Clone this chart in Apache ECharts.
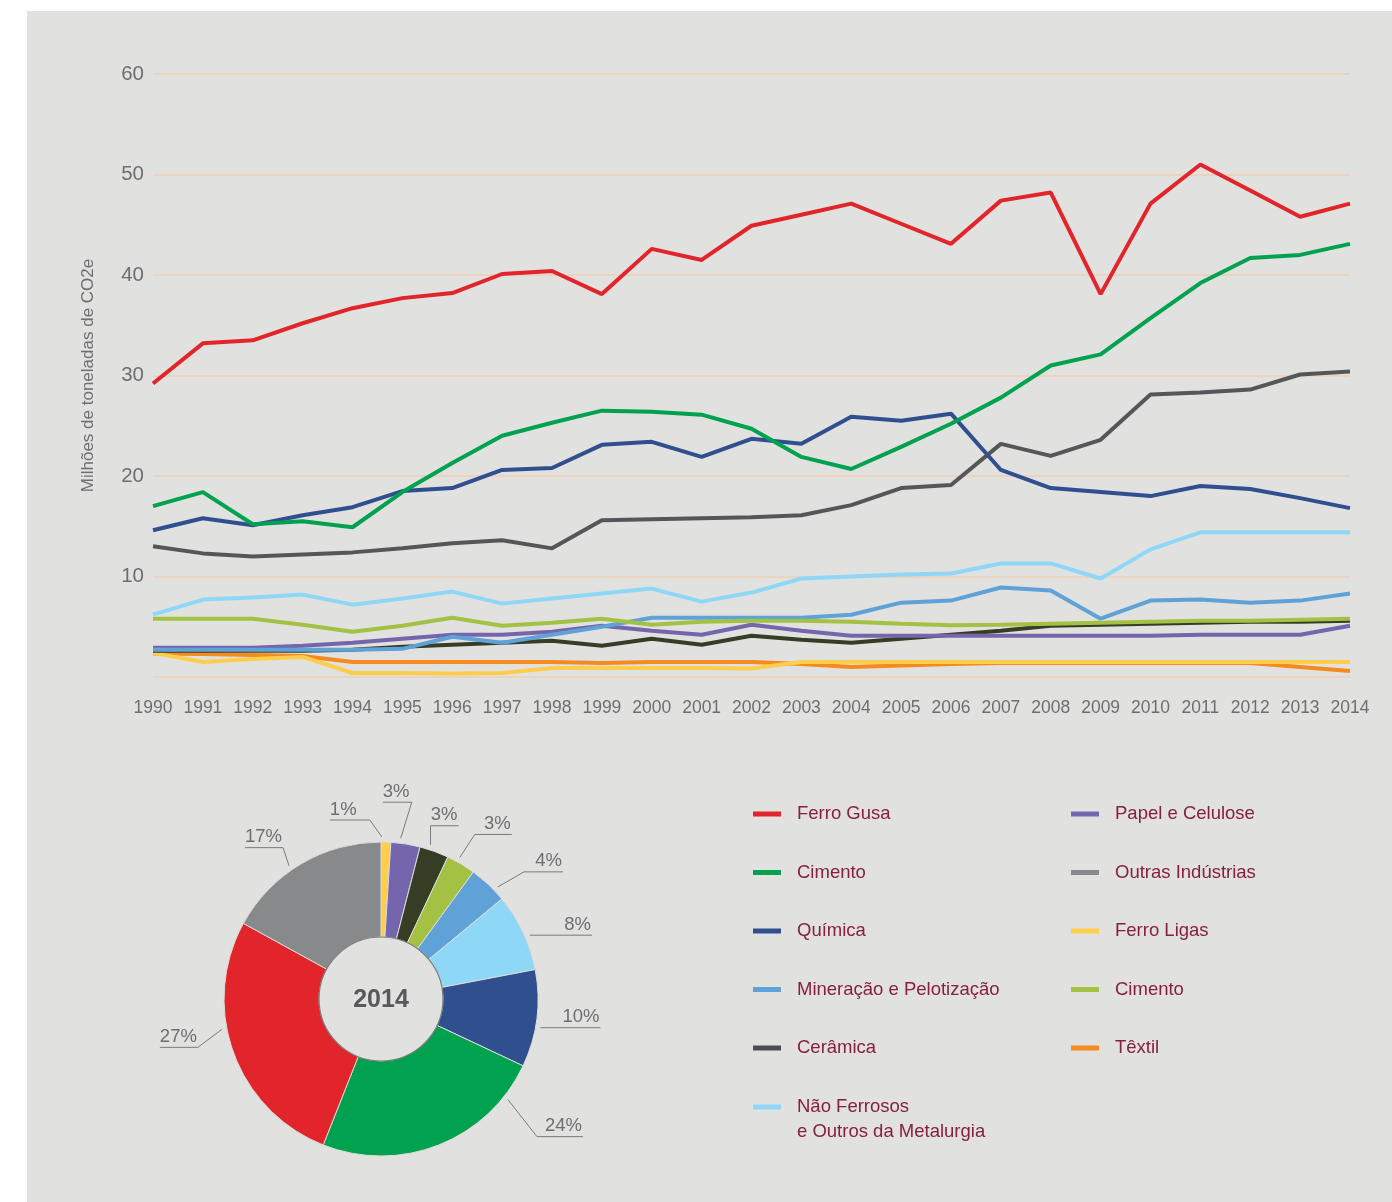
<!DOCTYPE html>
<html>
<head>
<meta charset="utf-8">
<script src="https://cdn.jsdelivr.net/npm/echarts@6/dist/echarts.min.js"></script>
<style>
  html, body { margin: 0; padding: 0; background: #ffffff; }
  #chart { position: absolute; left: 27px; top: 11px; width: 1365px; height: 1191px; background: #e1e1df; }
</style>
</head>
<body>
<div id="chart"></div>
<script>
// ---------- data ----------
const years = ['1990','1991','1992','1993','1994','1995','1996','1997','1998','1999','2000','2001','2002',
  '2003','2004','2005','2006','2007','2008','2009','2010','2011','2012','2013','2014'];

const ferroGusa   = [29.2, 33.2, 33.5, 35.2, 36.7, 37.7, 38.2, 40.1, 40.4, 38.1, 42.6, 41.5, 44.9, 46.0, 47.1, 45.1, 43.1, 47.4, 48.2, 38.1, 47.1, 51.0, 48.4, 45.8, 47.1];
const cimento     = [17.0, 18.4, 15.2, 15.5, 14.9, 18.4, 21.3, 24.0, 25.3, 26.5, 26.4, 26.1, 24.7, 21.9, 20.7, 22.9, 25.2, 27.8, 31.0, 32.1, 35.7, 39.2, 41.7, 42.0, 43.1];
const quimica     = [14.6, 15.8, 15.1, 16.1, 16.9, 18.5, 18.8, 20.6, 20.8, 23.1, 23.4, 21.9, 23.7, 23.2, 25.9, 25.5, 26.2, 20.6, 18.8, 18.4, 18.0, 19.0, 18.7, 17.8, 16.8];
const outras      = [13.0, 12.3, 12.0, 12.2, 12.4, 12.8, 13.3, 13.6, 12.8, 15.6, 15.7, 15.8, 15.9, 16.1, 17.1, 18.8, 19.1, 23.2, 22.0, 23.6, 28.1, 28.3, 28.6, 30.1, 30.4];
const naoFerrosos = [6.2, 7.7, 7.9, 8.2, 7.2, 7.8, 8.5, 7.3, 7.8, 8.3, 8.8, 7.5, 8.4, 9.8, 10.0, 10.2, 10.3, 11.3, 11.3, 9.8, 12.7, 14.4, 14.4, 14.4, 14.4];
const mineracao   = [2.7, 2.7, 2.7, 2.7, 2.7, 2.8, 4.0, 3.4, 4.2, 5.0, 5.9, 5.9, 5.9, 5.9, 6.2, 7.4, 7.6, 8.9, 8.6, 5.8, 7.6, 7.7, 7.4, 7.6, 8.3];
const cimento2    = [5.8, 5.8, 5.8, 5.2, 4.5, 5.1, 5.9, 5.1, 5.4, 5.8, 5.2, 5.5, 5.6, 5.6, 5.5, 5.3, 5.15, 5.2, 5.3, 5.4, 5.5, 5.6, 5.6, 5.7, 5.8];
const papel       = [2.9, 2.9, 2.9, 3.1, 3.4, 3.8, 4.2, 4.2, 4.5, 5.1, 4.6, 4.2, 5.2, 4.6, 4.1, 4.1, 4.1, 4.1, 4.1, 4.1, 4.1, 4.2, 4.2, 4.2, 5.1];
const ceramica    = [2.6, 2.6, 2.6, 2.6, 2.7, 3.0, 3.2, 3.4, 3.6, 3.1, 3.8, 3.2, 4.1, 3.7, 3.4, 3.8, 4.2, 4.6, 5.1, 5.2, 5.3, 5.4, 5.5, 5.5, 5.6];
const ferroLigas  = [2.4, 1.5, 1.8, 2.0, 0.4, 0.4, 0.35, 0.4, 0.9, 0.9, 0.9, 0.9, 0.85, 1.5, 1.5, 1.5, 1.5, 1.5, 1.5, 1.5, 1.5, 1.5, 1.5, 1.5, 1.5];
const textil      = [2.35, 2.3, 2.2, 2.1, 1.5, 1.5, 1.5, 1.5, 1.5, 1.4, 1.5, 1.5, 1.5, 1.3, 1.0, 1.15, 1.3, 1.4, 1.4, 1.4, 1.4, 1.4, 1.4, 1.0, 0.6];

// participação em 2014 (%), sentido horário a partir do topo
const pieNames  = ['Ferro Ligas', 'Papel e Celulose', 'Cerâmica', 'Cimento ', 'Mineração e Pelotização',
  'Não Ferrosos\ne Outros da Metalurgia', 'Química', 'Cimento', 'Ferro Gusa', 'Outras Indústrias'];
const pieValues = [1, 3, 3, 3, 4, 8, 10, 24, 27, 17];

// ---------- styles ----------
const C = {
  red: '#e1252b', green: '#00a24f', navy: '#2f4f8f', gray: '#555658', lightGray: '#88898b',
  sky: '#8fd7f6', blue: '#5fa2d8', lime: '#a3c244', purple: '#7565ad', olive: '#353e25',
  darkGray: '#4d4d4f', yellow: '#fecd4b', orange: '#f58a1f'
};
const FONT = '"Liberation Sans", Arial, sans-serif';
const TXT = '#6d6e70';
const LEG = '#86203f';

// 圖層順序: 後面的在上面
const lineSeries = [
  { name: 'Têxtil', data: textil, color: C.orange },
  { name: 'Ferro Ligas', data: ferroLigas, color: C.yellow },
  { name: 'Cerâmica', data: ceramica, color: C.olive },
  { name: 'Papel e Celulose', data: papel, color: C.purple },
  { name: 'Mineração e Pelotização', data: mineracao, color: C.blue },
  { name: 'Cimento ', data: cimento2, color: C.lime },
  { name: 'Não Ferrosos\ne Outros da Metalurgia', data: naoFerrosos, color: C.sky },
  { name: 'Outras Indústrias', data: outras, color: C.gray },
  { name: 'Química', data: quimica, color: C.navy },
  { name: 'Cimento', data: cimento, color: C.green },
  { name: 'Ferro Gusa', data: ferroGusa, color: C.red }
];

const pieColors = [C.yellow, C.purple, C.olive, C.lime, C.blue, C.sky, C.navy, C.green, C.red, C.lightGray];

// pie geometry (px inside the chart div)
const PIE_CX = 354, PIE_CY = 988, PIE_R0 = 62, PIE_R = 157;
// label leader tweaks: [angle shift (deg), elbow dx, elbow dy, underline length]
const pieLabelTweaks = [
  [-1.5, -12, -17, -40],
  [-2, 11, -36, -29],
  [-2, 0, -19, 28],
  [-1.5, 15, -23, 37],
  [3, 26, -15, 39],
  [2, 0, 0, 62],
  [3, 0, 0, 60],
  [-30, 29, 37, 46],
  [9, -24, 18, -38],
  [-4, -6, -18, -38]
];

const total = pieValues.reduce((a, b) => a + b, 0);
const midAngles = [];
pieValues.reduce((acc, v) => { midAngles.push((acc + v / 2) / total * 360); return acc + v; }, 0);

const pieLabelLayout = (params) => {
  const i = params.dataIndex;
  const t = pieLabelTweaks[i];
  const a = (midAngles[i] + t[0]) * Math.PI / 180;
  const r = PIE_R + 5;
  const p0 = [PIE_CX + r * Math.sin(a), PIE_CY - r * Math.cos(a)];
  const p1 = [p0[0] + t[1], p0[1] + t[2]];
  const p2 = [p1[0] + t[3], p1[1]];
  return {
    x: t[3] > 0 ? p2[0] - 1 : p2[0],
    y: p2[1] - 1,
    align: t[3] > 0 ? 'right' : 'left',
    verticalAlign: 'bottom',
    labelLinePoints: [p0, p1, p2]
  };
};

const legendText = { color: LEG, fontFamily: FONT, fontSize: 18.5, lineHeight: 25, padding: [0, 0, 0, 11] };
const legendItem = (name, color) => ({ name, itemStyle: { color } });
const legendBase = {
  orient: 'vertical', icon: 'rect', itemWidth: 28, itemHeight: 5, itemGap: 33.5, padding: 0,
  textStyle: legendText, selectedMode: false
};

// ---------- chart ----------
const chart = echarts.init(document.getElementById('chart'), null, { renderer: 'canvas' });

const option = {
  animation: false,
  backgroundColor: '#e1e1df',
  grid: { left: 126, right: 42, top: 63, bottom: 525, containLabel: false },
  xAxis: {
    type: 'category',
    data: years,
    boundaryGap: false,
    axisLine: { show: false },
    axisTick: { show: false },
    axisLabel: { color: TXT, fontFamily: FONT, fontSize: 17.5, margin: 22, interval: 0 },
    splitLine: { show: false }
  },
  yAxis: {
    type: 'value',
    min: 0, max: 60, interval: 10,
    name: 'Milhões de toneladas de CO2e',
    nameLocation: 'middle',
    nameGap: 56,
    nameTextStyle: { color: TXT, fontFamily: FONT, fontSize: 17 },
    axisLine: { show: false },
    axisTick: { show: false },
    axisLabel: { color: TXT, fontFamily: FONT, fontSize: 20.5, margin: 9, formatter: (v) => (v === 0 ? '' : v) },
    splitLine: { lineStyle: { color: '#ebd3c0', width: 2 } }
  },
  legend: [
    Object.assign({}, legendBase, {
      left: 726, top: 790.5,
      data: [
        legendItem('Ferro Gusa', C.red),
        legendItem('Cimento', C.green),
        legendItem('Química', C.navy),
        legendItem('Mineração e Pelotização', C.blue),
        legendItem('Cerâmica', C.darkGray)
      ]
    }),
    Object.assign({}, legendBase, {
      left: 726, top: 1058.5,
      // 空的第一行讓圖示對齊第一行文字
      formatter: (name) => '\n' + name,
      data: [legendItem('Não Ferrosos\ne Outros da Metalurgia', C.sky)]
    }),
    Object.assign({}, legendBase, {
      left: 1044, top: 790.5,
      data: [
        legendItem('Papel e Celulose', C.purple),
        legendItem('Outras Indústrias', C.lightGray),
        legendItem('Ferro Ligas', C.yellow),
        legendItem('Cimento ', C.lime),
        legendItem('Têxtil', C.orange)
      ]
    })
  ],
  graphic: [
    {
      type: 'circle', z: 100, silent: true,
      shape: { cx: PIE_CX, cy: PIE_CY, r: PIE_R0 },
      style: { fill: 'none', stroke: '#7a7a7a', lineWidth: 1.2 }
    },
    {
      type: 'text', z: 100, silent: true, x: PIE_CX, y: PIE_CY + 1,
      style: {
        text: '2014', align: 'center', verticalAlign: 'middle',
        fontFamily: FONT, fontWeight: 'bold', fontSize: 25, fill: '#58595b'
      }
    }
  ],
  series: lineSeries.map((s) => ({
    name: s.name,
    type: 'line',
    data: s.data,
    showSymbol: false,
    symbol: 'none',
    lineStyle: { width: 4, color: s.color },
    itemStyle: { color: s.color }
  })).concat([
    {
      name: 'Participação 2014',
      type: 'pie',
      center: [PIE_CX, PIE_CY],
      radius: [PIE_R0, PIE_R],
      startAngle: 90,
      clockwise: true,
      avoidLabelOverlap: false,
      legendHoverLink: false,
      itemStyle: { borderColor: '#dcdcda', borderWidth: 1 },
      label: {
        show: true, position: 'outside',
        formatter: '{c}%',
        color: TXT, fontFamily: FONT, fontSize: 18.5
      },
      labelLine: { show: true, length: 10, length2: 10, lineStyle: { color: '#7a7a7a', width: 1 } },
      labelLayout: pieLabelLayout,
      data: pieValues.map((v, i) => ({ name: pieNames[i], value: v, itemStyle: { color: pieColors[i] } }))
    }
  ])
};

chart.setOption(option);
</script>
</body>
</html>
